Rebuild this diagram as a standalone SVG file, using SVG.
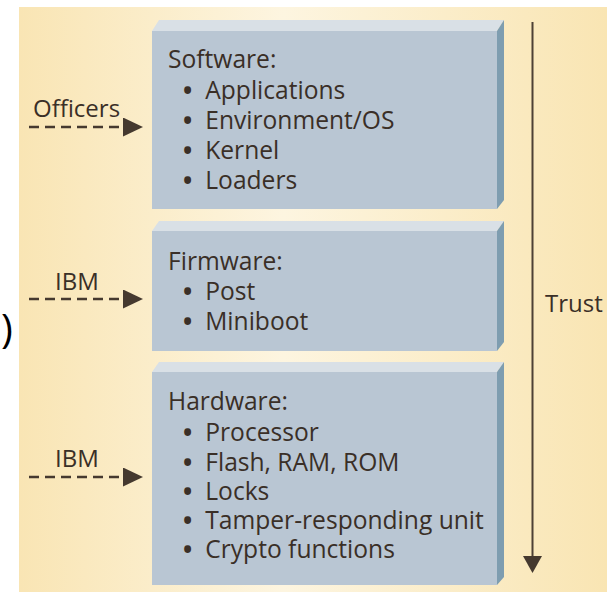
<svg xmlns="http://www.w3.org/2000/svg" width="607" height="592" viewBox="0 0 607 592">
  <defs>
    <linearGradient id="bg" x1="0" y1="0" x2="1" y2="0">
      <stop offset="0" stop-color="#f9e5b4"/>
      <stop offset="0.45" stop-color="#fdf5e0"/>
      <stop offset="1" stop-color="#f9e5b3"/>
    </linearGradient>
    <marker id="ah" viewBox="0 0 20 19" refX="0" refY="9.5" markerWidth="20" markerHeight="19" markerUnits="userSpaceOnUse" orient="auto">
      <polygon points="0,0 20,9.5 0,19" fill="#45392f"/>
    </marker>
  </defs>
  <style>
    .t { font-family: "Open Sans", "Liberation Sans", sans-serif; font-size: 24.6px; font-weight: 500; fill: #3a2f27; }
    .b { font-weight: 700; }
    .lbl { font-family: "Open Sans", "Liberation Sans", sans-serif; font-size: 24px; font-weight: 500; fill: #3a2f27; }
    .front { fill: #b9c6d3; }
    .top { fill: #d9e0e6; }
    .side { fill: #7e9db0; }
    .dash { stroke: #45392f; stroke-width: 2.5; stroke-dasharray: 10 6; fill: none; }
  </style>

  <rect x="19" y="7" width="588" height="585" fill="url(#bg)"/>
  <text x="1" y="343" font-family="Open Sans, Liberation Sans, sans-serif" font-size="40" fill="#000">)</text>

  <g id="software">
    <polygon class="top" points="152,31 159,20 504,20 497,31"/>
    <polygon class="side" points="497,31 504,20 504,200 497,209"/>
    <rect class="front" x="152" y="31" width="345" height="178"/>
    <text class="t" x="168" y="68">Software:</text>
    <text class="t" x="183" y="99"><tspan class="b">•</tspan><tspan dx="13">Applications</tspan></text>
    <text class="t" x="183" y="129"><tspan class="b">•</tspan><tspan dx="13">Environment/OS</tspan></text>
    <text class="t" x="183" y="159"><tspan class="b">•</tspan><tspan dx="13">Kernel</tspan></text>
    <text class="t" x="183" y="189"><tspan class="b">•</tspan><tspan dx="13">Loaders</tspan></text>
  </g>

  <g id="firmware">
    <polygon class="top" points="152,231 159,221 504,221 497,231"/>
    <polygon class="side" points="497,231 504,221 504,342 497,351"/>
    <rect class="front" x="152" y="231" width="345" height="120"/>
    <text class="t" x="168" y="270">Firmware:</text>
    <text class="t" x="183" y="300"><tspan class="b">•</tspan><tspan dx="13">Post</tspan></text>
    <text class="t" x="183" y="330"><tspan class="b">•</tspan><tspan dx="13">Miniboot</tspan></text>
  </g>

  <g id="hardware">
    <polygon class="top" points="152,372 159,362 504,362 497,372"/>
    <polygon class="side" points="497,372 504,362 504,577 497,585"/>
    <rect class="front" x="152" y="372" width="345" height="213"/>
    <text class="t" x="168" y="410">Hardware:</text>
    <text class="t" x="183" y="441"><tspan class="b">•</tspan><tspan dx="13">Processor</tspan></text>
    <text class="t" x="183" y="471"><tspan class="b">•</tspan><tspan dx="13">Flash, RAM, ROM</tspan></text>
    <text class="t" x="183" y="500"><tspan class="b">•</tspan><tspan dx="13">Locks</tspan></text>
    <text class="t" x="183" y="529"><tspan class="b">•</tspan><tspan dx="13">Tamper-responding unit</tspan></text>
    <text class="t" x="183" y="558"><tspan class="b">•</tspan><tspan dx="13">Crypto functions</tspan></text>
  </g>

  <g id="labels">
    <text class="lbl" x="33" y="117">Officers</text>
    <text class="lbl" x="55" y="290">IBM</text>
    <text class="lbl" x="55" y="467">IBM</text>
    <text class="lbl" x="545" y="312" font-size="22.5">Trust</text>
  </g>

  <g id="connectors">
    <path class="dash" d="M29,127 H123" marker-end="url(#ah)"/>
    <path class="dash" d="M29,299 H123" marker-end="url(#ah)"/>
    <path class="dash" d="M29,477 H123" marker-end="url(#ah)"/>
    <line x1="532.5" y1="22" x2="532.5" y2="557" stroke="#4d4035" stroke-width="2"/>
    <polygon points="523,556 542,556 532.5,573" fill="#45392f"/>
  </g>
</svg>
